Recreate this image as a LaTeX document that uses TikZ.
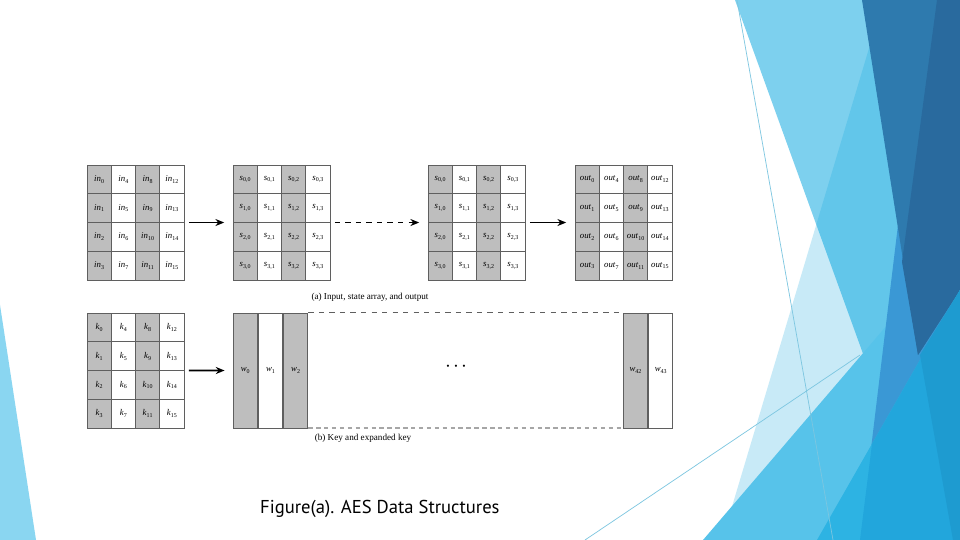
\documentclass[tikz,border=0pt]{standalone}
\usepackage{fontspec}
\setmainfont{Liberation Serif}
\newfontfamily\slidefont{PT Sans}
\usetikzlibrary{
    arrows.meta,
    positioning,
    fit
}
\definecolor{cellgray}{RGB}{190, 190, 190}
\definecolor{gridline}{RGB}{95, 95, 95}
\definecolor{facetlight}{RGB}{125, 208, 238}
\definecolor{facetpale}{RGB}{0, 162, 222}
\definecolor{facetsky}{RGB}{87, 195, 234}
\definecolor{facetmid}{RGB}{58, 152, 213}
\definecolor{facetnavy}{RGB}{46, 122, 174}
\definecolor{facetdeep}{RGB}{41, 106, 158}
\definecolor{facetcyan}{RGB}{45, 179, 227}
\definecolor{facetblue}{RGB}{34, 166, 220}
\definecolor{facetdark}{RGB}{30, 155, 208}
\definecolor{facetedge}{RGB}{138, 214, 241}
\definecolor{facetline}{RGB}{124, 198, 224}
\newcommand{\cellsub}[2]{\textit{#1}\raisebox{-0.45ex}{\fontsize{3.4}{4}\selectfont #2}}

\begin{document}
\begin{tikzpicture}[
        x=0.02cm, y=-0.02cm,
        cell/.style={rectangle, draw=gridline, line width=0.5pt, minimum width=0.485cm, minimum height=0.575cm, inner sep=0pt, font=\fontsize{5}{6}\selectfont},
        word/.style={rectangle, draw=gridline, line width=0.5pt, minimum width=0.487cm, minimum height=2.3cm, inner sep=0pt, font=\fontsize{5}{6}\selectfont},
        arrow/.style={-{Stealth[length=5pt, width=4pt]}, line width=1pt, shorten <=0.08cm, shorten >=0.16cm},
        caption/.style={font=\fontsize{5.2}{6}\selectfont},
    ]
        % Slide background
        \fill[white] (0,0) rectangle (960,540);
        \useasboundingbox (0,0) rectangle (960,540);
        \fill[facetedge] (0,305) -- (36,540) -- (0,540) -- cycle;
        \fill[facetlight] (735,0) -- (880,0) -- (940,420) -- (887,420) -- cycle;
        \fill[facetpale, opacity=0.215] (870,45) -- (722,540) -- (960,540) -- cycle;
        \fill[facetsky] (703,540) -- (960,240) -- (960,540) -- cycle;
        \fill[facetmid] (901,200) -- (960,200) -- (960,540) -- (860,540) -- cycle;
        \fill[facetnavy] (862,0) -- (960,0) -- (960,290) -- (918,355) -- cycle;
        \fill[facetdeep] (937,0) -- (960,0) -- (960,290) -- (918,355) -- (902,262) -- cycle;
        \fill[facetcyan] (817,540) -- (960,290) -- (960,540) -- cycle;
        \fill[facetblue] (860,540) -- (872,444) -- (960,290) -- (960,540) -- cycle;
        \fill[facetdark] (920,355) -- (960,290) -- (960,540) -- (953,540) -- cycle;
        \draw[facetline, line width=0.4pt] (737,0) -- (833,540);
        \draw[facetline, line width=0.4pt] (585,540) -- (860,355);

        % Row 1: input and output arrays, key array
        \foreach \g/\x/\y/\sym in {in/87/165/in, out/575/165/out, key/87/313/k}
            \foreach \r in {1,...,4}
                \foreach \c in {1,...,4} {
                    \pgfmathtruncatemacro{\idx}{4*(\c-1)+\r-1}
                    \pgfmathtruncatemacro{\odd}{mod(\c,2)}
                    \ifnum\odd=1 \def\cf{cellgray}\else\def\cf{white}\fi
                    \node[cell, fill=\cf] (\g-\r-\c) at ({\x+12.1+24.25*(\c-1)}, {\y+14.4+28.75*(\r-1)}) {\cellsub{\sym}{\idx}};
                }

        % Row 1: state arrays
        \foreach \g/\x in {sa/233, sb/428}
            \foreach \r in {1,...,4}
                \foreach \c in {1,...,4} {
                    \pgfmathtruncatemacro{\rr}{\r-1}
                    \pgfmathtruncatemacro{\cc}{\c-1}
                    \pgfmathtruncatemacro{\odd}{mod(\c,2)}
                    \ifnum\odd=1 \def\cf{cellgray}\else\def\cf{white}\fi
                    \node[cell, fill=\cf] (\g-\r-\c) at ({\x+12.1+24.25*(\c-1)}, {179.4+28.75*(\r-1)}) {\cellsub{s}{\rr,\cc}};
                }

        % Whole arrays
        \node[fit=(in-1-1)(in-4-4), inner sep=0pt] (inarr) {};
        \node[fit=(sa-1-1)(sa-4-4), inner sep=0pt] (saarr) {};
        \node[fit=(sb-1-1)(sb-4-4), inner sep=0pt] (sbarr) {};
        \node[fit=(out-1-1)(out-4-4), inner sep=0pt] (outarr) {};
        \node[fit=(key-1-1)(key-4-4), inner sep=0pt] (keyarr) {};

        % Row 2: expanded key words
        \node[word, fill=cellgray] (w0) at (245.2,370.5) {\cellsub{w}{0}};
        \node[word, fill=white, right=0pt of w0] (w1) {\cellsub{w}{1}};
        \node[word, fill=cellgray, right=0pt of w1] (w2) {\cellsub{w}{2}};
        \node[word, fill=cellgray] (w42) at (635.5,370.5) {\cellsub{w}{42}};
        \node[word, fill=white, right=0pt of w42] (w43) {\cellsub{w}{43}};
        \node[font=\fontsize{12}{12}\selectfont] (dots) at (456,367) {$\cdot$\hspace{1.2pt}$\cdot$\hspace{1.2pt}$\cdot$};

        % Arrows
        \draw[arrow] (inarr) -- (saarr);
        \draw[arrow, dashed] (saarr) -- (sbarr);
        \draw[arrow] (sbarr) -- (outarr);
        \draw[arrow] (keyarr) -- (w0);

        % Dashed borders of the skipped words
        \draw[gridline, dashed, line width=0.4pt] (w2.north east) -- (w42.north west);
        \draw[gray!70, line width=1.1pt, dash pattern=on 2.5pt off 2pt] (w2.south east) -- (w42.south west);

        % Captions
        \node[caption] (capa) at (370,297) {(a) Input, state array, and output};
        \node[caption] (capb) at (363,438) {(b) Key and expanded key};
        \node[anchor=west, font=\slidefont\fontsize{10.6}{12}\selectfont] (title) at (254,509) {Figure(a). AES Data Structures};
    \end{tikzpicture}
\end{document}
